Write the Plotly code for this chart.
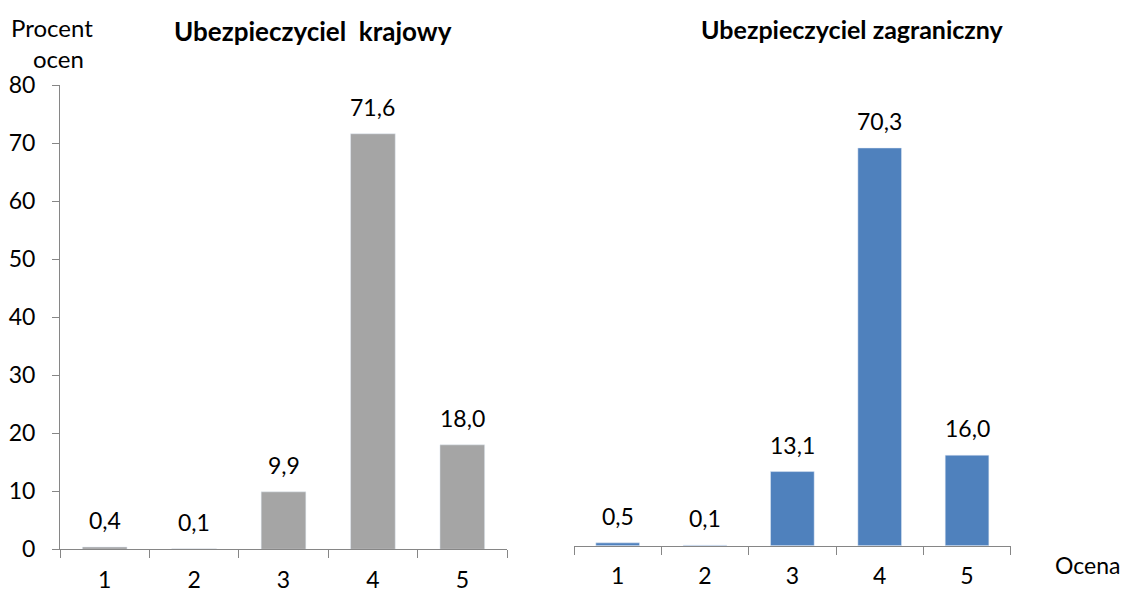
import plotly.graph_objects as go

categories = ["1", "2", "3", "4", "5"]
domestic = [0.4, 0.1, 9.9, 71.6, 18.0]
foreign = [0.5, 0.1, 13.1, 70.3, 16.0]
y_ticks = [0, 10, 20, 30, 40, 50, 60, 70, 80]

title_left = "Ubezpieczyciel&nbsp; krajowy"
title_right = "Ubezpieczyciel zagraniczny"
y_title_1 = "Procent"
y_title_2 = "ocen"
x_title = "Ocena"

FONT = "Lato, Carlito, Calibri, sans-serif"
W, H = 1124, 592
AXIS_COLOR = "#868686"

def px_x(p):
    return p / W

def px_y(p):
    return (H - p) / H

fig = go.Figure()
fig.add_trace(go.Bar(x=categories, y=domestic, marker_color="#A5A5A5", width=0.5,
                     xaxis="x", yaxis="y", showlegend=False, hoverinfo="x+y"))
fig.add_trace(go.Bar(x=categories, y=foreign, marker_color="#4F81BD", width=0.5,
                     xaxis="x2", yaxis="y2", showlegend=False, hoverinfo="x+y"))

annotations = []
for ys, xr, yr in [(domestic, "x", "y"), (foreign, "x2", "y2")]:
    for i, v in enumerate(ys):
        annotations.append(dict(x=i, y=v, xref=xr, yref=yr, text=f"{v:.1f}".replace(".", ","),
                                showarrow=False, yanchor="middle", yshift=27,
                                font=dict(family=FONT, size=23, color="#000")))

annotations += [
    dict(x=px_x(313), y=px_y(31), xref="paper", yref="paper", text=f"<b>{title_left}</b>",
         showarrow=False, xanchor="center", yanchor="middle", font=dict(family=FONT, size=26, color="#000")),
    dict(x=px_x(852), y=px_y(29), xref="paper", yref="paper", text=f"<b>{title_right}</b>",
         showarrow=False, xanchor="center", yanchor="middle", font=dict(family=FONT, size=25, color="#000")),
    dict(x=px_x(52), y=px_y(28), xref="paper", yref="paper", text=y_title_1,
         showarrow=False, xanchor="center", yanchor="middle", font=dict(family=FONT, size=24, color="#000")),
    dict(x=px_x(58), y=px_y(58), xref="paper", yref="paper", text=y_title_2,
         showarrow=False, xanchor="center", yanchor="middle", font=dict(family=FONT, size=24, color="#000")),
    dict(x=px_x(1122), y=px_y(565), xref="paper", yref="paper", text=x_title,
         showarrow=False, xanchor="right", yanchor="middle", font=dict(family=FONT, size=23, color="#000")),
]

xaxis_common = dict(type="category", tickson="boundaries", ticks="outside", ticklen=8,
                    tickcolor=AXIS_COLOR, showline=True, linecolor=AXIS_COLOR, linewidth=1,
                    showgrid=False, zeroline=False, range=[-0.5, 4.5], automargin=False,
                    ticklabelstandoff=10,
                    tickfont=dict(family=FONT, size=23, color="#000"), fixedrange=True)

fig.update_layout(
    width=W, height=H,
    margin=dict(l=0, r=0, t=0, b=0, pad=0, autoexpand=False),
    paper_bgcolor="white", plot_bgcolor="white",
    xaxis=dict(domain=[px_x(60), px_x(507)], anchor="y", **xaxis_common),
    yaxis=dict(domain=[px_y(549.3), px_y(85)], anchor="x", range=[0, 80], tickvals=y_ticks,
               ticks="outside", ticklen=7, tickcolor=AXIS_COLOR, showline=True,
               linecolor=AXIS_COLOR, linewidth=1, showgrid=False, zeroline=False,
               automargin=False, ticklabelstandoff=12,
               tickfont=dict(family=FONT, size=23, color="#000"), fixedrange=True),
    xaxis2=dict(domain=[px_x(574), px_x(1010.7)], anchor="y2", **xaxis_common),
    yaxis2=dict(domain=[px_y(545.7), px_y(93.1)], anchor="x2", range=[0, 80],
                visible=False, fixedrange=True, automargin=False),
    annotations=annotations,
    font=dict(family=FONT, color="#000"),
)

fig.write_html("out.html", config={"displayModeBar": False},
               post_script="document.body.style.margin='0';document.body.style.padding='0';")
